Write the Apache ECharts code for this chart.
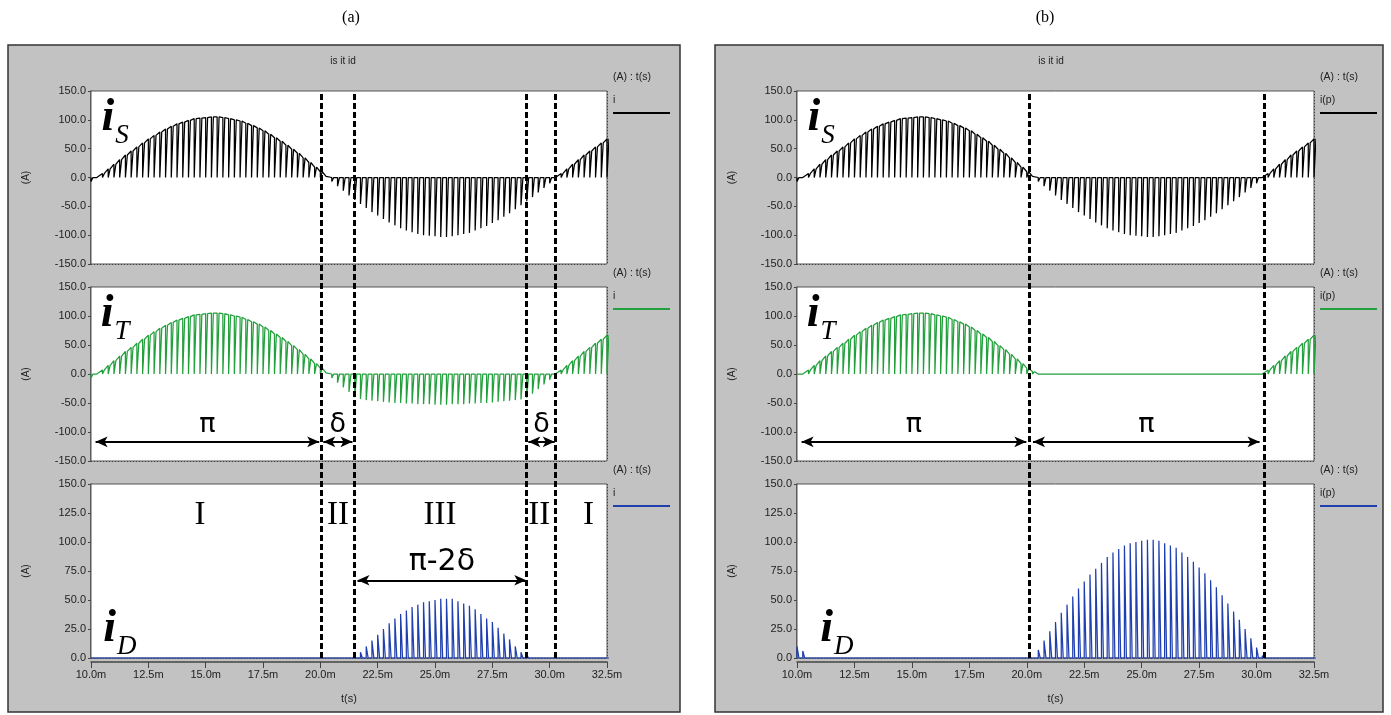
<!DOCTYPE html>
<html>
<head>
<meta charset="utf-8">
<script src="https://cdn.jsdelivr.net/npm/echarts@6/dist/echarts.min.js"></script>
<style>
  html, body { margin: 0; padding: 0; background: #fff; }
  #chart { width: 1391px; height: 715px; }
</style>
</head>
<body>
<div id="chart"></div>
<script>
// time axis (ms): one switching pulse every 0.25 ms from 10.0 to 32.5
var tStart = 10.0, tStep = 0.25;
var xMin = 10, xMax = 32.5, xInterval = 2.5;
var xTickLabels = ['10.0m', '12.5m', '15.0m', '17.5m', '20.0m', '22.5m', '25.0m', '27.5m', '30.0m', '32.5m'];

// pulse peak values (A)
var iSource = [-7, -2, 7, 15, 23, 31, 39, 46, 53, 60, 67, 73, 79, 84, 89, 93, 96, 99, 102, 103,
  104, 105, 105, 104, 102, 100, 98, 94, 90, 86, 81, 75, 69, 63, 56, 49, 42, 34, 26, 18,
  10, 2, -7, -15, -23, -31, -39, -46, -53, -60, -66, -72, -78, -83, -88, -92, -95, -98, -100, -101,
  -102, -103, -103, -102, -100, -98, -96, -92, -88, -84, -79, -74, -68, -62, -55, -48, -41, -34, -26, -18,
  -10, -2, 7, 15, 23, 31, 39, 46, 53, 60, 67];

var iThyristorA = [-7, -2, 7, 15, 23, 31, 39, 46, 53, 60, 67, 73, 79, 84, 89, 93, 96, 99, 102, 103,
  104, 105, 105, 104, 102, 100, 98, 94, 90, 86, 81, 75, 69, 63, 56, 49, 42, 34, 26, 18,
  10, 2, -7, -15, -23, -31, -40, -43, -45, -46, -47, -48, -49, -50, -50, -51, -51, -52, -52, -52,
  -53, -53, -53, -52, -52, -52, -51, -51, -50, -50, -49, -48, -47, -46, -45, -44, -41, -34, -26, -18,
  -10, -2, 7, 15, 23, 31, 39, 46, 53, 60, 67];

var iDiodeA = [0, 0, 0, 0, 0, 0, 0, 0, 0, 0, 0, 0, 0, 0, 0, 0, 0, 0, 0, 0,
  0, 0, 0, 0, 0, 0, 0, 0, 0, 0, 0, 0, 0, 0, 0, 0, 0, 0, 0, 0,
  0, 0, 0, 0, 0, 0, 0, 5, 10, 15, 20, 25, 30, 34, 38, 41, 44, 46, 48, 49,
  50, 51, 51, 51, 49, 47, 45, 42, 38, 34, 31, 26, 21, 16, 10, 5, 2, 0, 0, 0,
  0, 0, 0, 0, 0, 0, 0, 0, 0, 0, 0];

// (B)
var iThyristorB = [0, 0, 7, 15, 23, 31, 39, 46, 53, 60, 67, 73, 79, 84, 89, 93, 96, 99, 102, 103,
  104, 105, 105, 104, 102, 100, 98, 94, 90, 86, 81, 75, 69, 63, 56, 49, 42, 34, 26, 18,
  10, 4, 0, 0, 0, 0, 0, 0, 0, 0, 0, 0, 0, 0, 0, 0, 0, 0, 0, 0,
  0, 0, 0, 0, 0, 0, 0, 0, 0, 0, 0, 0, 0, 0, 0, 0, 0, 0, 0, 0,
  0, 0, 7, 15, 23, 31, 39, 46, 53, 60, 67];

var iDiodeB = [10, 6, 0, 0, 0, 0, 0, 0, 0, 0, 0, 0, 0, 0, 0, 0, 0, 0, 0, 0,
  0, 0, 0, 0, 0, 0, 0, 0, 0, 0, 0, 0, 0, 0, 0, 0, 0, 0, 0, 0,
  0, 0, 7, 15, 23, 31, 39, 46, 53, 60, 66, 72, 77, 82, 87, 91, 94, 97, 99, 100,
  101, 102, 102, 101, 99, 97, 95, 91, 87, 83, 78, 73, 67, 61, 54, 47, 40, 33, 25, 17,
  9, 2, 0, 0, 0, 0, 0, 0, 0, 0, 0];

// annotations (data coordinates)
var boundariesA = [20.05, 21.47, 29.0, 30.26];
var boundariesB = [20.11, 30.32];
var arrowsMidA = [
  { from: 10.2, to: 19.95, y: -117, text: 'π' },
  { from: 20.13, to: 21.4, y: -117, text: 'δ' },
  { from: 29.07, to: 30.22, y: -117, text: 'δ' }
];
var arrowsBotA = [{ from: 21.62, to: 28.98, y: 67, text: 'π-2δ' }];
var arrowsMidB = [
  { from: 10.2, to: 19.98, y: -117, text: 'π' },
  { from: 20.27, to: 30.13, y: -117, text: 'π' }
];
var regionLabelsA = [
  { t: 14.75, text: 'I' }, { t: 20.77, text: 'II' }, { t: 25.22, text: 'III' },
  { t: 29.55, text: 'II' }, { t: 31.69, text: 'I' }
];
var regionLabelY = 123;
var subscripts = ['S', 'T', 'D'];
var nameLabelPos = [
  [[11.05, 103], [11.05, 103], [11.26, 25]],
  [[11.05, 103], [11.05, 103], [11.74, 25]]
];

// layout
var panelLeft = [91, 797], plotW = [516, 517];
var rowTop = [91, 287, 484], rowH = [173, 174, 174];
var legendX = [613, 1320];
var legendNames = ['i', 'i(p)'];
var traceColors = ['#000000', '#22a03c', '#1f3fae'];
var pulseWidth = 0.085;

function buildTrace(values, topWhenPositive) {
  var pts = [];
  values.forEach(function (v, k) {
    var t = tStart + k * tStep;
    if (topWhenPositive && v > 0) {
      pts.push([t, v], [t, 0], [t + pulseWidth, 0], [t + pulseWidth, v]);
    } else {
      pts.push([t, 0], [t, v], [t + pulseWidth, v], [t + pulseWidth, 0]);
    }
  });
  return pts;
}

var traces = [
  [buildTrace(iSource, true), buildTrace(iThyristorA, true), buildTrace(iDiodeA, false)],
  [buildTrace(iSource, true), buildTrace(iThyristorB, true), buildTrace(iDiodeB, false)]
];

var labelFont = 'Liberation Sans';
var grids = [], xAxes = [], yAxes = [], series = [], graphics = [];

function arrowLines(list, big) {
  return {
    silent: true,
    symbol: ['arrow', 'arrow'],
    symbolSize: [8, 12],
    lineStyle: { color: '#000', width: 2, type: 'solid' },
    label: {
      show: true, position: 'insideMiddleTop', formatter: '{b}', color: '#000',
      fontFamily: 'DejaVu Sans', fontSize: big ? 30 : 27, distance: 3
    },
    data: list.map(function (a) {
      return [{ coord: [a.from, a.y], name: a.text }, { coord: [a.to, a.y] }];
    })
  };
}

for (var p = 0; p < 2; p++) {
  for (var r = 0; r < 3; r++) {
    var g = p * 3 + r;
    grids.push({
      left: panelLeft[p], top: rowTop[r], width: plotW[p], height: rowH[r],
      show: true, backgroundColor: '#fff', borderColor: '#555', borderWidth: 1, z: 2
    });
    xAxes.push({
      gridIndex: g, type: 'value', min: xMin, max: xMax, interval: xInterval,
      name: r === 2 ? 't(s)' : '', nameLocation: 'middle', nameGap: 31,
      nameTextStyle: { fontFamily: labelFont, fontSize: 11, color: '#222' },
      offset: r === 2 ? 4 : 0,
      axisLine: { show: r === 2, onZero: false, lineStyle: { color: '#444', width: 1.5 } },
      axisTick: { show: r === 2, length: 6, lineStyle: { color: '#444' } },
      axisLabel: {
        show: r === 2, margin: 7, fontFamily: labelFont, fontSize: 11, color: '#222',
        formatter: function (v) { return xTickLabels[Math.round((v - xMin) / xInterval)]; }
      },
      splitLine: { show: true, lineStyle: { color: '#333', width: 1, type: [1, 2] } }
    });
    var wide = r < 2;
    yAxes.push({
      gridIndex: g, type: 'value',
      min: wide ? -150 : 0, max: 150, interval: wide ? 50 : 25,
      name: '(A)', nameLocation: 'middle', nameRotate: 90, nameGap: 60,
      nameTextStyle: { fontFamily: labelFont, fontSize: 10, color: '#222' },
      axisLine: { show: true, onZero: false, lineStyle: { color: '#444', width: 1.5 } },
      axisTick: { show: true, length: 3, lineStyle: { color: '#444' } },
      axisLabel: {
        margin: 5, fontFamily: labelFont, fontSize: 11, color: '#222',
        formatter: function (v) { return v.toFixed(1); }
      },
      splitLine: { show: true, lineStyle: { color: '#333', width: 1, type: [1, 2] } }
    });

    var s = {
      type: 'line', xAxisIndex: g, yAxisIndex: g,
      data: traces[p][r], showSymbol: false, symbol: 'none', silent: true,
      lineStyle: { color: traceColors[r], width: 1.25 }, itemStyle: { color: traceColors[r] },
      z: 3,
      markPoint: {
        silent: true, symbol: 'circle', symbolSize: 1, itemStyle: { color: 'rgba(0,0,0,0)' },
        label: {
          show: true, position: 'inside', formatter: '{c}',
          rich: {
            i: { fontFamily: 'Liberation Serif', fontStyle: 'italic', fontWeight: 'bold', fontSize: 46, color: '#000', verticalAlign: 'top', lineHeight: 46 },
            s: { fontFamily: 'Liberation Serif', fontStyle: 'italic', fontSize: 27, color: '#000', verticalAlign: 'top', lineHeight: 27, padding: [27, 0, 0, 1] },
            rn: { fontFamily: 'Liberation Serif', fontSize: 33, color: '#000' }
          }
        },
        data: [{ coord: nameLabelPos[p][r], value: '{i|i}{s|' + subscripts[r] + '}' }]
      }
    };
    if (p === 0 && r === 2) {
      regionLabelsA.forEach(function (q) {
        s.markPoint.data.push({ coord: [q.t, regionLabelY], value: '{rn|' + q.text + '}' });
      });
      s.markLine = arrowLines(arrowsBotA, true);
    }
    if (r === 1) {
      s.markLine = arrowLines(p === 0 ? arrowsMidA : arrowsMidB, false);
    }
    series.push(s);

    // legend block on the right of every plot
    graphics.push(
      { type: 'text', z: 5, style: { text: '(A) : t(s)', x: legendX[p], y: rowTop[r] - 14, font: '10.5px "Liberation Sans"', fill: '#222', align: 'left', verticalAlign: 'middle', textAlign: 'left', textVerticalAlign: 'middle' } },
      { type: 'text', z: 5, style: { text: legendNames[p], x: legendX[p], y: rowTop[r] + 9, font: '10.5px "Liberation Sans"', fill: '#222', align: 'left', verticalAlign: 'middle', textAlign: 'left', textVerticalAlign: 'middle' } },
      { type: 'line', z: 5, shape: { x1: legendX[p], y1: rowTop[r] + 22, x2: legendX[p] + 57, y2: rowTop[r] + 22 }, style: { stroke: traceColors[r], lineWidth: 2 } }
    );
  }
}

// overlay grids carrying the dashed interval boundaries across all three plots
for (var q = 0; q < 2; q++) {
  var og = 6 + q;
  grids.push({ left: panelLeft[q], top: rowTop[0], width: plotW[q], height: rowTop[2] + rowH[2] - rowTop[0], show: false, z: 6 });
  xAxes.push({ gridIndex: og, type: 'value', min: xMin, max: xMax, show: false, splitLine: { show: false } });
  yAxes.push({ gridIndex: og, type: 'value', min: 0, max: 1, show: false, splitLine: { show: false } });
  series.push({
    type: 'line', xAxisIndex: og, yAxisIndex: og, data: [], z: 6,
    markLine: {
      silent: true, symbol: 'none', label: { show: false },
      lineStyle: { color: '#000', width: 3, type: [6, 3] },
      data: (q === 0 ? boundariesA : boundariesB).map(function (v) { return { xAxis: v }; })
    }
  });
}

// gray panels, panel titles
graphics.unshift(
  { type: 'rect', z: -100, shape: { x: 8, y: 45, width: 672, height: 667 }, style: { fill: '#c2c2c2', stroke: '#333', lineWidth: 1.5 } },
  { type: 'rect', z: -100, shape: { x: 715, y: 45, width: 668, height: 667 }, style: { fill: '#c2c2c2', stroke: '#333', lineWidth: 1.5 } },
  { type: 'text', z: 5, style: { text: '(a)', x: 351, y: 18, font: '16px "Liberation Serif"', fill: '#000', align: 'center', verticalAlign: 'middle', textAlign: 'center', textVerticalAlign: 'middle' } },
  { type: 'text', z: 5, style: { text: '(b)', x: 1045, y: 18, font: '16px "Liberation Serif"', fill: '#000', align: 'center', verticalAlign: 'middle', textAlign: 'center', textVerticalAlign: 'middle' } },
  { type: 'text', z: 5, style: { text: 'is it id', x: 343, y: 61, font: '10px "Liberation Sans"', fill: '#222', align: 'center', verticalAlign: 'middle', textAlign: 'center', textVerticalAlign: 'middle' } },
  { type: 'text', z: 5, style: { text: 'is it id', x: 1051, y: 61, font: '10px "Liberation Sans"', fill: '#222', align: 'center', verticalAlign: 'middle', textAlign: 'center', textVerticalAlign: 'middle' } }
);

var dom = document.getElementById('chart');
var myChart = echarts.init(dom, null, { renderer: 'canvas' });
var option = {
  backgroundColor: '#fff',
  animation: false,
  grid: grids,
  xAxis: xAxes,
  yAxis: yAxes,
  series: series,
  graphic: graphics
};
myChart.setOption(option);
window.addEventListener('resize', myChart.resize);
</script>
</body>
</html>
